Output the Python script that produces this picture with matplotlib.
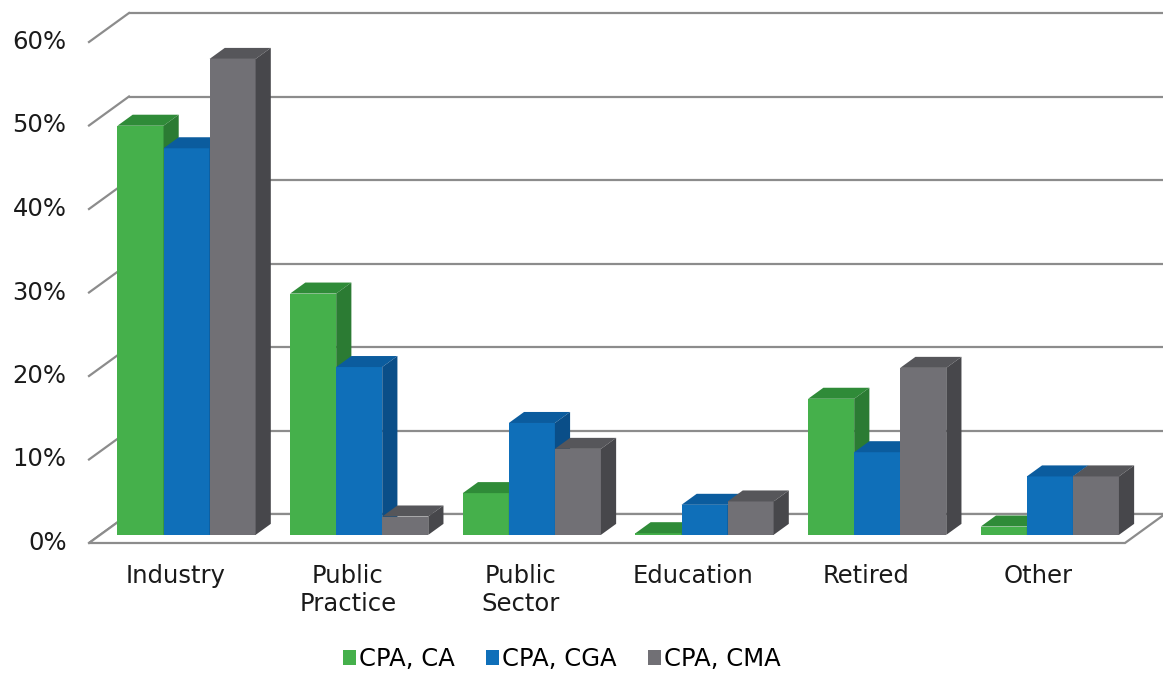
import matplotlib
matplotlib.use('Agg')
import matplotlib.pyplot as plt
from matplotlib.patches import Polygon, Patch
import numpy as np

# data (percent)
categories = ['Industry', 'Public\nPractice', 'Public\nSector', 'Education', 'Retired', 'Other']
series_names = ['CPA, CA', 'CPA, CGA', 'CPA, CMA']
cpa_ca = [49.0, 28.9, 5.0, 0.2, 16.3, 1.0]
cpa_cga = [46.3, 20.1, 13.4, 3.6, 9.9, 7.0]
cpa_cma = [57.0, 2.2, 10.3, 4.0, 20.0, 7.0]
yticks = [0, 10, 20, 30, 40, 50, 60]

# front / top / side colours per series
colors = [
    ('#45b04b', '#2f8b38', '#2b7b33'),
    ('#0f6fb9', '#0b5c9e', '#0a4e88'),
    ('#717075', '#56565a', '#47474b'),
]

FONT = 'DejaVu Sans'
FS = 17.5

W, H = 1163, 676
fig = plt.figure(figsize=(W / 100, H / 100), dpi=100, facecolor='white')
ax = fig.add_axes([0, 0, 1, 1])

# pixel geometry of the plot box
px_x0, px_x1 = 89, 1125        # front floor edge
px_y0, px_y60 = 543, 42        # 0% and 60% on the front plane
sx = (px_x1 - px_x0) / 6.0
sy = (px_y0 - px_y60) / 60.0
ax.set_xlim(-px_x0 / sx, 6 + (W - px_x1) / sx)
ax.set_ylim(-(H - px_y0) / sy, 60 + px_y60 / sy)
ax.axis('off')

# depth vector of the whole floor, in data units
ddx = 40 / sx
ddy = 29 / sy

grid_col = '#8c8c8c'
lw = 1.6

# back wall gridlines and left-wall diagonals
for v in yticks:
    ax.plot([ddx, 6 + ddx], [v + ddy, v + ddy], color=grid_col, lw=lw, zorder=1,
            solid_capstyle='butt')
    ax.plot([0, ddx], [v, v + ddy], color=grid_col, lw=lw, zorder=1)
    ax.text(-0.13, v, f'{v}%', ha='right', va='center', fontsize=FS,
            family=FONT, color='#1a1a1a')

# floor outline
floor = Polygon([(0, 0), (6, 0), (6 + ddx, ddy), (ddx, ddy)], closed=True,
                facecolor='white', edgecolor=grid_col, lw=lw, zorder=1)
ax.add_patch(floor)

# bars
f0, f1 = 0.28, 0.66            # depth fraction of bar front / back
bx, by = ddx * f0, ddy * f0
ox, oy = ddx * (f1 - f0), ddy * (f1 - f0)
group = 0.8
bw = group / 3
series = [cpa_ca, cpa_cga, cpa_cma]
z = 2
for i in range(len(categories)):
    for s, vals in enumerate(series):
        v = vals[i]
        x0 = i + 0.5 - group / 2 + s * bw + bx
        x1 = x0 + bw
        yb = by
        yt = by + v
        fc, tc, sc = colors[s]
        ax.add_patch(Polygon([(x0, yb), (x1, yb), (x1, yt), (x0, yt)],
                             facecolor=fc, edgecolor='none', zorder=z))
        ax.add_patch(Polygon([(x0, yt), (x1, yt), (x1 + ox, yt + oy), (x0 + ox, yt + oy)],
                             facecolor=tc, edgecolor='none', zorder=z))
        ax.add_patch(Polygon([(x1, yb), (x1 + ox, yb + oy), (x1 + ox, yt + oy), (x1, yt)],
                             facecolor=sc, edgecolor='none', zorder=z))
        z += 1

# category labels
for i, c in enumerate(categories):
    ax.text(i + 0.5, -(564 - px_y0) / sy, c, ha='center', va='top', fontsize=FS,
            family=FONT, color='#1a1a1a', linespacing=1.2)

handles = [Patch(facecolor=colors[k][0], edgecolor='none') for k in range(3)]
fig.legend(handles, series_names, loc='center', bbox_to_anchor=(0.483, 1 - 659 / H),
           ncol=3, frameon=False, handlelength=0.55, handleheight=0.55,
           handletextpad=0.1, columnspacing=1.3,
           prop={'family': FONT, 'size': FS})

fig.savefig('out.png', dpi=100, facecolor='white')
